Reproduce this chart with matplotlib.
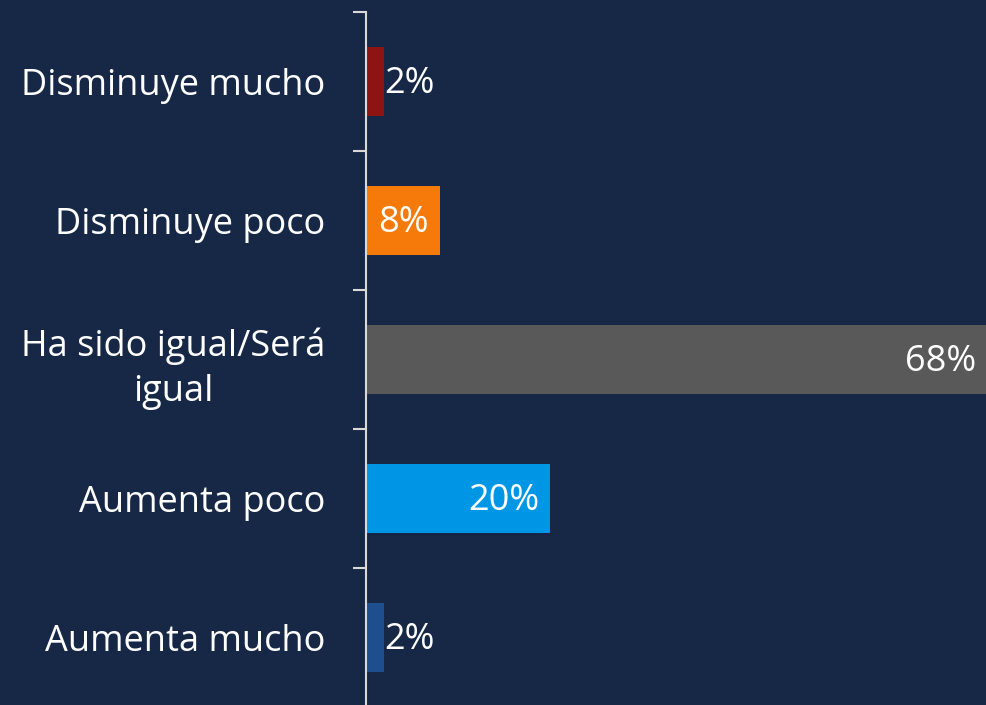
import matplotlib.pyplot as plt

CATEGORIES = [
    "Disminuye mucho",
    "Disminuye poco",
    "Ha sido igual/Será\nigual",
    "Aumenta poco",
    "Aumenta mucho",
]
VALUES = [2, 8, 68, 20, 2]
COLORS = ["#8E1414", "#F57A0A", "#595959", "#0096E6", "#1F4E8F"]
BG = "#172847"

plt.rcParams["font.family"] = ["Open Sans", "DejaVu Sans"]
FS = 26

fig = plt.figure(figsize=(9.87, 7.05), dpi=100, facecolor=BG)
ax = fig.add_axes([366 / 987, -2 / 705, 1 - 366 / 987, 695 / 705], facecolor=BG)

ypos = list(range(len(CATEGORIES)))
ax.barh(ypos, VALUES, height=0.5, color=COLORS)
ax.set_xlim(0, 67.5)
ax.set_ylim(len(CATEGORIES) - 0.5, -0.5)

for y, v in zip(ypos, VALUES):
    if v < 5:
        ax.annotate(f"{v}%", (v, y), xytext=(0, -2), textcoords="offset points",
                    va="center", ha="left", color="white", fontsize=FS)
    else:
        # the widest bar runs off the right edge, keep its label inside the axes
        end = min(v, ax.get_xlim()[1])
        ax.annotate(f"{v}%", (end, y), xytext=(-8, -2), textcoords="offset points",
                    va="center", ha="right", color="white", fontsize=FS)

ax.set_yticks([i - 0.5 for i in range(len(CATEGORIES) + 1)])
ax.set_yticklabels([])
ax.set_yticks(ypos, minor=True)
ax.set_yticklabels(CATEGORIES, minor=True, color="white", fontsize=FS,
                   ha="right", multialignment="center", linespacing=1.35)
ax.tick_params(axis="y", which="minor", length=0, pad=29)
ax.tick_params(axis="y", which="major", length=9.5, width=1.5, color="#D9D9D9")
ax.set_xticks([])

for side in ("top", "right", "bottom"):
    ax.spines[side].set_visible(False)
ax.spines["left"].set_color("#D9D9D9")
ax.spines["left"].set_linewidth(1.5)

fig.savefig("out.png", dpi=100, facecolor=BG)
